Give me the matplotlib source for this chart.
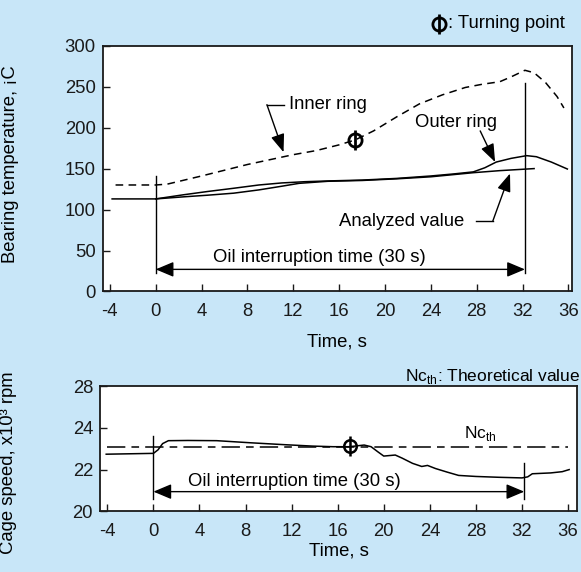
import matplotlib
matplotlib.use('Agg')
import matplotlib.pyplot as plt
from matplotlib.lines import Line2D

plt.rcParams['font.family'] = ['Liberation Sans', 'DejaVu Sans']
plt.rcParams['mathtext.fontset'] = 'custom'
plt.rcParams['mathtext.rm'] = 'Liberation Sans'
plt.rcParams['axes.unicode_minus'] = False
FS = 13.3
plt.rcParams['font.size'] = FS

BG = '#c8e6f8'

# ---------------- data ----------------
time_ticks = [-4, 0, 4, 8, 12, 16, 20, 24, 28, 32, 36]
temp_ticks = [0, 50, 100, 150, 200, 250, 300]
speed_ticks = [20, 22, 24, 26]
speed_ticklabels = ['20', '22', '24', '28']

inner_t = [-3.5, 0, 1.0, 2.5, 4, 6, 8, 10, 12, 14, 16, 17.4, 19, 21, 23, 25, 27, 28.5,
           30, 31, 32.2, 33, 34, 35, 35.6]
inner_v = [130, 130, 131, 136, 141, 148, 155, 161, 167, 172, 179, 185, 196, 213, 229, 240,
           249, 253, 256, 262, 270, 267, 255, 238, 224]

outer_t = [-3.8, 0, 2.4, 4.5, 6.8, 9, 11, 13, 15.2, 18, 21, 24, 26, 27.7, 28.7, 29.7, 31,
           32.35, 33.2, 34.5, 35.9]
outer_v = [113, 113, 118, 122, 126, 130, 132.5, 134, 135, 136, 138, 141, 143.5, 146, 151,
           158, 162.5, 165.8, 164.5, 158, 149.5]

analyzed_t = [0, 2.4, 4.5, 6.8, 9, 11, 12.5, 15, 18, 21, 24, 27.7, 30, 33]
analyzed_v = [113, 115.5, 117.5, 120, 124, 128.5, 132, 134.5, 135.5, 137.5, 140, 145, 147.5, 150]

speed_t = [-4.1, 0, 0.4, 0.8, 1.3, 3, 5.5, 8.4, 11.3, 13.8, 15.6, 17, 18.3, 18.9, 19.5, 20.0,
           21.0, 21.6, 22.5, 23.3, 23.8, 24.5, 25.5, 26.5, 28, 30, 32, 32.5, 32.9, 34.5, 35.5,
           36.1]
speed_v = [22.74, 22.78, 22.95, 23.25, 23.39, 23.4, 23.39, 23.29, 23.2, 23.13, 23.1, 23.1,
           23.18, 23.1, 22.85, 22.65, 22.7, 22.55, 22.3, 22.15, 22.2, 22.05, 21.88, 21.72,
           21.67, 21.63, 21.6, 21.65, 21.8, 21.84, 21.9, 22.0]

nc_th_t = [-4.0, 36.0]
nc_th_v = [23.1, 23.1]

oil_start, oil_end = 0, 32.2
turn_time_temp, turn_temp = 17.4, 185
turn_time_speed, turn_speed = 17.07, 23.13

# ---------------- figure ----------------
fig = plt.figure(figsize=(5.81, 5.72), dpi=100, facecolor=BG)
ax1 = fig.add_axes([0.1768, 0.4904, 0.8072, 0.4297])
ax2 = fig.add_axes([0.1721, 0.1063, 0.8210, 0.2182])

for ax in (ax1, ax2):
    ax.set_facecolor('white')
    for s in ax.spines.values():
        s.set_linewidth(1.3)
        s.set_color('#1a1a1a')
    ax.tick_params(direction='in', length=5, width=1, colors='#1a1a1a', labelsize=FS)
    ax.tick_params(axis='x', pad=8.5)
    ax.tick_params(axis='y', pad=5)
    ax.set_xticks(time_ticks)

LW = 1.1
head = dict(arrowstyle='-|>,head_length=1.0,head_width=0.38', color='black', lw=1.0,
            mutation_scale=11, shrinkA=0, shrinkB=0)
dhead = dict(arrowstyle='<|-|>,head_length=1.0,head_width=0.42', color='black', lw=1.0,
             mutation_scale=11, shrinkA=0, shrinkB=0)

# ---- top: bearing temperature ----
ax1.set_xlim(-4.62, 36.28)
ax1.set_ylim(0, 300)
ax1.set_yticks(temp_ticks)
ax1.plot(inner_t, inner_v, color='black', lw=LW, dashes=(5, 3.5))
ax1.plot(outer_t, outer_v, color='black', lw=LW)
ax1.plot(analyzed_t, analyzed_v, color='black', lw=LW)
ax1.plot([oil_start, oil_start], [23, 141], color='black', lw=1.0)
ax1.plot([oil_end, oil_end], [23, 255], color='black', lw=1.0)
ax1.annotate('', xy=(oil_start, 27), xytext=(oil_end, 27), arrowprops=dhead)
ax1.text(14.3, 41, 'Oil interruption time (30 s)', ha='center', va='center', fontsize=FS)

# turning point marker
ax1.plot([turn_time_temp], [turn_temp], marker='o', ms=9.5, mfc='none', mec='black', mew=2.0)
ax1.plot([turn_time_temp], [turn_temp], marker='|', ms=15, mec='black', mew=2.0)

# Inner ring label
ax1.text(11.6, 228, 'Inner ring', ha='left', va='center', fontsize=FS)
ax1.plot([11.2, 9.7], [228, 228], color='black', lw=1.0)
ax1.annotate('', xy=(11.15, 170), xytext=(9.7, 228), arrowprops=head)
# Outer ring label
ax1.text(26.2, 206, 'Outer ring', ha='center', va='center', fontsize=FS)
ax1.annotate('', xy=(29.6, 158), xytext=(28.3, 196), arrowprops=head)
# Analyzed value label
ax1.text(26.9, 86, 'Analyzed value', ha='right', va='center', fontsize=FS)
ax1.plot([27.9, 29.4], [86, 86], color='black', lw=1.0)
ax1.annotate('', xy=(30.9, 144), xytext=(29.4, 86), arrowprops=head)

ax1.set_xlabel('Time, s', fontsize=FS)
ax1.xaxis.set_label_coords(0.5, -0.17)
ax1.set_ylabel('Bearing temperature, ¡C', fontsize=FS)
ax1.yaxis.set_label_coords(-0.179, 0.52)

# ---- bottom: cage speed ----
ax2.set_xlim(-4.64, 36.78)
ax2.set_ylim(20, 26)
ax2.set_yticks(speed_ticks)
ax2.set_yticklabels(speed_ticklabels)
ax2.plot(nc_th_t, nc_th_v, color='black', lw=LW, dashes=(12, 4, 5, 4))
ax2.plot(speed_t, speed_v, color='black', lw=LW)
ax2.plot([oil_start, oil_start], [20.57, 23.6], color='black', lw=1.0)
ax2.plot([oil_end, oil_end], [20.57, 22.3], color='black', lw=1.0)
ax2.annotate('', xy=(oil_start, 20.94), xytext=(oil_end, 20.94), arrowprops=dhead)
ax2.text(12.2, 21.42, 'Oil interruption time (30 s)', ha='center', va='center', fontsize=FS)
ax2.plot([turn_time_speed], [turn_speed], marker='o', ms=9, mfc='none', mec='black', mew=1.8)
ax2.plot([turn_time_speed], [turn_speed], marker='|', ms=14.5, mec='black', mew=1.8)
ax2.text(26.95, 23.72, r'Nc$_{\rm th}$', ha='left', va='center', fontsize=12.5)

ax2.set_xlabel('Time, s', fontsize=FS)
ax2.xaxis.set_label_coords(0.5, -0.25)
ax2.set_ylabel('Cage speed, x10³ rpm', fontsize=FS)
ax2.yaxis.set_label_coords(-0.175, 0.39)

# ---- figure-level legends ----
W, H = 581.0, 572.0
lx, ly = 439.0 / W, 1 - 23.5 / H
fig.text(447.5 / W, ly, ': Turning point', ha='left', va='center', fontsize=FS)
fig.add_artist(Line2D([lx], [ly], transform=fig.transFigure, marker='o', ms=9.5,
                      mfc='none', mec='black', mew=2.0))
fig.add_artist(Line2D([lx], [ly], transform=fig.transFigure, marker='|', ms=15,
                      mec='black', mew=2.0))
fig.text(580 / W, 1 - 376.7 / H, r'Nc$_{\rm th}$: Theoretical value', ha='right',
         va='center', fontsize=12.5)

fig.savefig('out.png', dpi=100, facecolor=BG)
